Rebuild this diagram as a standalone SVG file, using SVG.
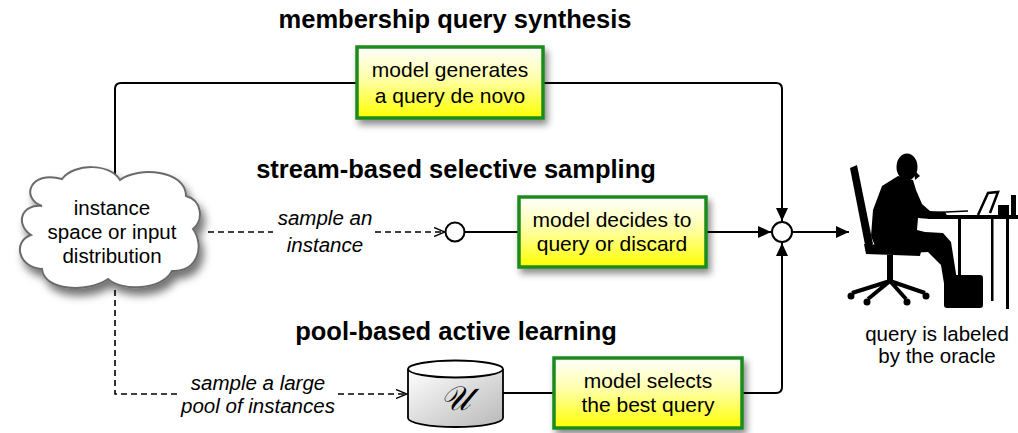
<svg xmlns="http://www.w3.org/2000/svg" width="1018" height="433" viewBox="0 0 1018 433">
  <defs>
    <style>
      text { font-family: "Liberation Sans", Arial, sans-serif; fill: #000; }
      .title { font-size: 25.5px; font-weight: bold; text-anchor: middle; }
      .lbl { font-size: 20.5px; text-anchor: middle; }
      .bx { font-size: 21px; text-anchor: middle; }
      .it { font-size: 20.5px; font-style: italic; text-anchor: middle; }
      .ln { fill: none; stroke: #000; stroke-width: 2; }
      .dash { fill: none; stroke: #000; stroke-width: 1.6; stroke-dasharray: 6 4; }
      .box { fill: url(#yg); stroke: #1c8a1c; stroke-width: 3.5; filter: url(#sh); }
      .node { fill: #fff; stroke: #000; stroke-width: 2; }
      .sil { fill: #000; }
    </style>
    <linearGradient id="yg" x1="0" y1="0" x2="0" y2="1">
      <stop offset="0" stop-color="#ffffff"/>
      <stop offset="0.45" stop-color="#ffffa8"/>
      <stop offset="1" stop-color="#ffff00"/>
    </linearGradient>
    <linearGradient id="cg" x1="0" y1="0" x2="1" y2="1">
      <stop offset="0" stop-color="#ffffff"/>
      <stop offset="1" stop-color="#b8b8b8"/>
    </linearGradient>
    <filter id="sh" x="-20%" y="-20%" width="150%" height="160%">
      <feDropShadow dx="3" dy="5" stdDeviation="3.5" flood-color="#000" flood-opacity="0.45"/>
    </filter>
    <filter id="csh" x="-20%" y="-20%" width="150%" height="160%">
      <feDropShadow dx="4" dy="7" stdDeviation="4" flood-color="#000" flood-opacity="0.55"/>
    </filter>
    <marker id="ah" markerUnits="userSpaceOnUse" markerWidth="14" markerHeight="12" refX="13" refY="6" orient="auto">
      <path d="M0,0 L13,6 L0,12 z" fill="#000"/>
    </marker>
    <marker id="oa" markerUnits="userSpaceOnUse" markerWidth="12" markerHeight="10" refX="11" refY="5" orient="auto">
      <path d="M0,0.5 L11,5 L0,9.5" fill="none" stroke="#000" stroke-width="1.4"/>
    </marker>
  </defs>

  <rect width="1018" height="433" fill="#fff"/>

  <text class="title" x="455" y="28">membership query synthesis</text>
  <text class="title" x="456" y="178">stream-based selective sampling</text>
  <text class="title" x="456" y="340">pool-based active learning</text>

  <g id="connectors">
    <path class="ln" d="M115,180 V89 Q115,83 121,83 H776 Q782,83 782,89 V221" marker-end="url(#ah)"/>
    <path class="dash" d="M208,232 H273"/>
    <path class="dash" d="M375,232 H445" marker-end="url(#oa)"/>
    <path class="ln" d="M464,232 H519"/>
    <path class="ln" d="M706,232 H771" marker-end="url(#ah)"/>
    <path class="ln" d="M792,232 H849" marker-end="url(#ah)"/>
    <path class="dash" d="M115,290 V394 H177"/>
    <path class="dash" d="M338,394 H407" marker-end="url(#oa)"/>
    <path class="ln" d="M503,393 H554"/>
    <path class="ln" d="M742,393 H776 Q782,393 782,387 V243" marker-end="url(#ah)"/>
    <text class="it" x="325" y="225">sample an</text>
    <text class="it" x="325" y="252">instance</text>
    <text class="it" x="258" y="390">sample a large</text>
    <text class="it" x="258" y="413">pool of instances</text>
  </g>

  <g id="cloud">
    <path d="M42,206 C20,198 30,170 62,179 C74,163 110,163 120,180 C138,166 186,170 186,196 C202,200 204,220 193,229 C205,246 198,272 172,271 C162,291 120,291 108,279 C88,293 44,291 42,269 C17,267 13,241 31,235 C15,224 21,204 42,206 Z" fill="#fff" stroke="#6b6b6b" stroke-width="2" filter="url(#csh)"/>
    <text class="lbl" x="112" y="215">instance</text>
    <text class="lbl" x="112" y="239">space or input</text>
    <text class="lbl" x="112" y="263">distribution</text>
  </g>

  <g id="synthesis">
    <rect class="box" x="357" y="47" width="186" height="71"/>
    <text class="bx" x="450" y="77">model generates</text>
    <text class="bx" x="450" y="103">a query de novo</text>
  </g>

  <g id="stream-circle">
    <circle class="node" cx="455" cy="232" r="9.5"/>
  </g>

  <g id="stream">
    <rect class="box" x="519" y="197" width="187" height="70"/>
    <text class="bx" x="612" y="227">model decides to</text>
    <text class="bx" x="612" y="251">query or discard</text>
  </g>

  <g id="junction">
    <circle class="node" cx="782" cy="232" r="10"/>
  </g>

  <g id="pool">
    <path d="M408,369 V418 A47.5,9 0 0 0 503,418 V369" fill="url(#cg)" stroke="#000" stroke-width="1.8"/>
    <ellipse cx="455.5" cy="369" rx="47.5" ry="8.5" fill="#fff" stroke="#000" stroke-width="1.8"/>
    <text x="455" y="410" font-family="'DejaVu Serif', 'Liberation Serif', serif" font-style="italic" font-size="34" text-anchor="middle">𝒰</text>
  </g>

  <g id="pool-select">
    <rect class="box" x="554" y="358" width="188" height="70"/>
    <text class="bx" x="648" y="388">model selects</text>
    <text class="bx" x="648" y="412">the best query</text>
  </g>

  <g id="oracle">
    <!-- chair back -->
    <path class="sil" d="M850,168 L857,165 L873,244 L866,250 Z"/>
    <!-- seat -->
    <path class="sil" d="M864,244 L922,247 L920,256 L866,254 Z"/>
    <!-- chair post and base -->
    <rect class="sil" x="887" y="255" width="6" height="27"/>
    <path d="M890,281 L852,293 M890,281 L868,299 M890,281 L906,299 M890,281 L925,293" stroke="#000" stroke-width="4" fill="none"/>
    <circle class="sil" cx="851" cy="296" r="3.5"/>
    <circle class="sil" cx="867" cy="302" r="3.5"/>
    <circle class="sil" cx="907" cy="302" r="3.5"/>
    <circle class="sil" cx="926" cy="296" r="3.5"/>
    <!-- head -->
    <ellipse class="sil" cx="907" cy="167" rx="10.5" ry="13.5"/>
    <path class="sil" d="M914,170 L920,176 L915,180 Z"/>
    <!-- body: torso, arm and leg -->
    <path class="sil" d="M898,176 L913,180 L916,190 L922,204 L930,211 L945,212 L948,217 L930,219 L918,218 L917,230 L925,232 L943,233 L951,242 L957,280 L962,300 L947,302 L941,265 L928,252 L890,254 L877,251 L871,236 L873,210 L882,186 Z"/>
    <!-- bag -->
    <rect class="sil" x="944" y="275" width="39" height="33" rx="3"/>
    <!-- desk -->
    <rect class="sil" x="928" y="215" width="90" height="4"/>
    <path d="M924,213 L968,211" stroke="#000" stroke-width="1.5"/>
    <rect class="sil" x="958" y="219" width="3" height="82"/>
    <rect class="sil" x="991" y="219" width="2.5" height="82"/>
    <rect class="sil" x="1006" y="219" width="3" height="90"/>
    <!-- laptop -->
    <path d="M978,215 L988,193 L998,192 L990,213" stroke="#000" stroke-width="2.5" fill="none"/>
    <rect class="sil" x="998" y="205" width="11" height="11"/>
    <rect class="sil" x="1011" y="195" width="5" height="21"/>
    <text class="lbl" x="937" y="341">query is labeled</text>
    <text class="lbl" x="937" y="363">by the oracle</text>
  </g>
</svg>
